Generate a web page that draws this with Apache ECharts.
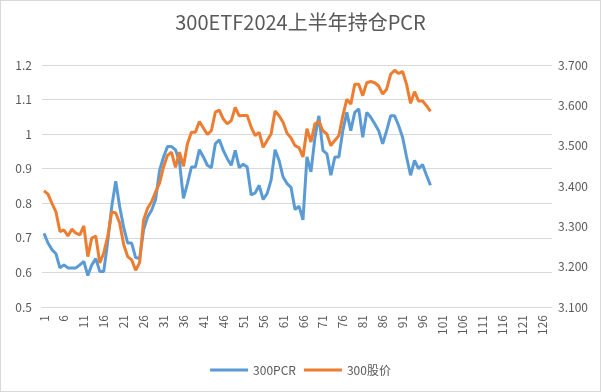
<!DOCTYPE html>
<html>
<head>
<meta charset="utf-8">
<script src="https://cdn.jsdelivr.net/npm/echarts@6/dist/echarts.min.js"></script>
<style>
html,body{margin:0;padding:0;background:#fff;}
#c{width:601px;height:392px;box-sizing:border-box;border:1px solid #d9d9d9;}
</style>
</head>
<body>
<div id="c"></div>
<script>
var categories = ["1","2","3","4","5","6","7","8","9","10","11","12","13","14","15","16","17","18","19","20",
"21","22","23","24","25","26","27","28","29","30","31","32","33","34","35","36","37","38","39","40",
"41","42","43","44","45","46","47","48","49","50","51","52","53","54","55","56","57","58","59","60",
"61","62","63","64","65","66","67","68","69","70","71","72","73","74","75","76","77","78","79","80",
"81","82","83","84","85","86","87","88","89","90","91","92","93","94","95","96","97","98","99","100",
"101","102","103","104","105","106","107","108","109","110","111","112","113","114","115","116","117","118","119","120",
"121","122","123","124","125","126","127","128"];

var pcr = [0.713,0.685,0.666,0.654,0.613,0.622,0.613,0.613,0.613,0.622,
0.632,0.591,0.622,0.640,0.603,0.603,0.690,0.790,0.864,0.790,
0.730,0.685,0.685,0.643,0.640,0.723,0.760,0.780,0.810,0.895,
0.934,0.964,0.964,0.955,0.920,0.814,0.857,0.905,0.905,0.955,
0.934,0.910,0.903,0.972,0.984,0.953,0.929,0.910,0.953,0.903,
0.913,0.905,0.824,0.830,0.852,0.811,0.828,0.867,0.955,0.924,
0.876,0.857,0.846,0.782,0.792,0.752,0.934,0.891,0.990,1.053,
0.953,0.943,0.881,0.934,0.934,1.010,1.063,1.010,1.063,1.073,
0.991,1.063,1.049,1.030,1.010,0.972,1.010,1.053,1.053,1.025,
0.991,0.934,0.881,0.924,0.900,0.912,0.881,0.852];

var price = [3.388,3.380,3.357,3.336,3.287,3.291,3.276,3.293,3.283,3.279,
3.301,3.225,3.271,3.276,3.209,3.234,3.275,3.336,3.333,3.308,
3.255,3.225,3.217,3.191,3.210,3.316,3.345,3.361,3.385,3.407,
3.447,3.476,3.484,3.446,3.484,3.449,3.505,3.533,3.533,3.560,
3.544,3.528,3.537,3.583,3.588,3.566,3.554,3.562,3.595,3.574,
3.575,3.575,3.546,3.525,3.533,3.496,3.513,3.529,3.586,3.574,
3.558,3.531,3.519,3.500,3.495,3.472,3.542,3.509,3.554,3.560,
3.537,3.529,3.500,3.513,3.525,3.574,3.615,3.603,3.652,3.652,
3.624,3.656,3.659,3.656,3.648,3.628,3.640,3.677,3.687,3.679,
3.684,3.652,3.605,3.634,3.611,3.611,3.599,3.585];

var titleText = "300ETF2024上半年持仓PCR";
var seriesNames = ["300PCR","300股价"];

var chart = echarts.init(document.getElementById('c'));
var txt = '#595959';
var font = '"Noto Sans CJK SC","Noto Sans",sans-serif';
chart.setOption({
  animation:false,
  title:{text:titleText,left:'center',top:6,textStyle:{fontSize:20,fontWeight:'normal',color:txt,fontFamily:font}},
  legend:{data:seriesNames,left:'center',top:358,icon:'rect',itemWidth:38,itemHeight:3,itemGap:8,
    textStyle:{fontSize:12,color:txt,fontFamily:font}},
  grid:{left:41,right:48,top:64,bottom:84,containLabel:false},
  xAxis:{type:'category',data:categories,boundaryGap:true,
    axisTick:{show:false},axisLine:{show:true,lineStyle:{color:'#d9d9d9'}},
    axisLabel:{rotate:90,interval:4,fontSize:12,color:txt,margin:8,fontFamily:font}},
  yAxis:[
    {type:'value',min:0.5,max:1.2,interval:0.1,
      axisLabel:{fontSize:12,color:txt,margin:10,fontFamily:font},
      axisLine:{show:false},axisTick:{show:false},
      splitLine:{lineStyle:{color:'#d9d9d9'}}},
    {type:'value',min:3.1,max:3.7,interval:0.1,
      axisLabel:{fontSize:12,color:txt,margin:6,fontFamily:font,formatter:function(v){return v.toFixed(3);}},
      axisLine:{show:false},axisTick:{show:false},splitLine:{show:false}}
  ],
  series:[
    {name:seriesNames[0],type:'line',yAxisIndex:0,data:pcr,symbol:'none',
      lineStyle:{width:3,color:'#5B9BD5'},itemStyle:{color:'#5B9BD5'}},
    {name:seriesNames[1],type:'line',yAxisIndex:1,data:price,symbol:'none',
      lineStyle:{width:3,color:'#ED7D31'},itemStyle:{color:'#ED7D31'}}
  ]
});
</script>
</body>
</html>
